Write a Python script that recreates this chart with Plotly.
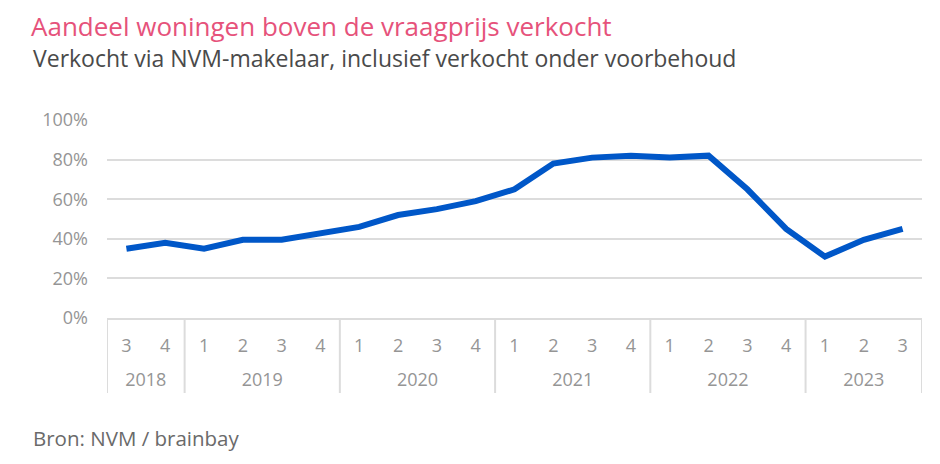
import plotly.graph_objects as go

years = ["2018", "2018",
         "2019", "2019", "2019", "2019",
         "2020", "2020", "2020", "2020",
         "2021", "2021", "2021", "2021",
         "2022", "2022", "2022", "2022",
         "2023", "2023", "2023"]
quarters = ["3", "4",
            "1", "2", "3", "4",
            "1", "2", "3", "4",
            "1", "2", "3", "4",
            "1", "2", "3", "4",
            "1", "2", "3"]
share_above_asking = [35, 38,
                      35, 39.5, 39.5, 43,
                      46, 52, 55, 59,
                      65, 78, 81, 82,
                      81, 82, 65, 45,
                      31, 39.5, 45]

FONT = "Open Sans"
GRID = "#dcdcdc"
TICK = "#959595"

# the page body has an 8px margin, so the figure is laid out 8px up/left
L, R, T, B = 99, 26, 112, 154
W, H = 940, 464
PW, PH = W - L - R, H - T - B

pos = list(range(len(quarters)))

# year groups: centre position for the label, edges for the dividers
year_names, year_centres, edges = [], [], [-0.5]
for i, y in enumerate(years):
    if not year_names or year_names[-1] != y:
        year_names.append(y)
        year_centres.append([i])
        if i > 0:
            edges.append(i - 0.5)
    else:
        year_centres[-1].append(i)
edges.append(len(years) - 0.5)
year_centres = [sum(c) / len(c) for c in year_centres]

fig = go.Figure()
fig.add_trace(go.Scatter(
    x=pos, y=share_above_asking,
    mode="lines",
    line=dict(color="#0057c8", width=6),
    showlegend=False, hoverinfo="y",
))
fig.add_trace(go.Scatter(x=[], y=[], xaxis="x2", showlegend=False))

xrange = [-0.5, len(pos) - 0.5]
div_bottom = (H - B - 385) / PH

fig.update_layout(
    width=W, height=H,
    paper_bgcolor="white", plot_bgcolor="white",
    margin=dict(l=L, r=R, t=T, b=B),
    font=dict(family=FONT, color=TICK, size=18),
    title=dict(
        text="Aandeel woningen boven de vraagprijs verkocht",
        font=dict(family=FONT, size=26, color="#e6527b"),
        x=23 / W, xanchor="left", xref="container",
        y=1 - 19 / H, yanchor="middle", yref="container",
    ),
    annotations=[
        dict(text="Verkocht via NVM-makelaar, inclusief verkocht onder voorbehoud",
             xref="paper", yref="paper", x=(23 - L) / PW, y=(H - B - 50) / PH,
             xanchor="left", yanchor="middle", showarrow=False,
             font=dict(family=FONT, size=23, color="#4a4a4a")),
        dict(text="Bron: NVM / brainbay",
             xref="paper", yref="paper", x=(23 - L) / PW, y=(H - B - 430) / PH,
             xanchor="left", yanchor="middle", showarrow=False,
             font=dict(family=FONT, size=20.5, color="#6a6a6a")),
    ],
    shapes=[dict(type="line", xref="x", yref="paper", x0=e, x1=e,
                 y0=0, y1=div_bottom, line=dict(color=GRID, width=2))
            for e in edges],
    xaxis=dict(
        range=xrange, tickvals=pos, ticktext=quarters,
        showgrid=False, zeroline=False,
        showline=True, linecolor=GRID, linewidth=2,
        ticks="", tickfont=dict(size=18, color=TICK),
        ticklabelstandoff=10,
    ),
    xaxis2=dict(
        overlaying="x", side="bottom", anchor="y",
        range=xrange, tickvals=year_centres, ticktext=year_names,
        showgrid=False, zeroline=False, showline=False,
        ticks="", tickfont=dict(size=18, color=TICK),
        ticklabelstandoff=49,
    ),
    yaxis=dict(
        range=[0, 100], dtick=20, ticksuffix="%",
        showgrid=True, gridcolor=GRID, gridwidth=2,
        zeroline=False, showline=False, ticks="",
        tickfont=dict(size=18, color=TICK), ticklabelstandoff=18,
    ),
)

fig.write_html("out.html")
